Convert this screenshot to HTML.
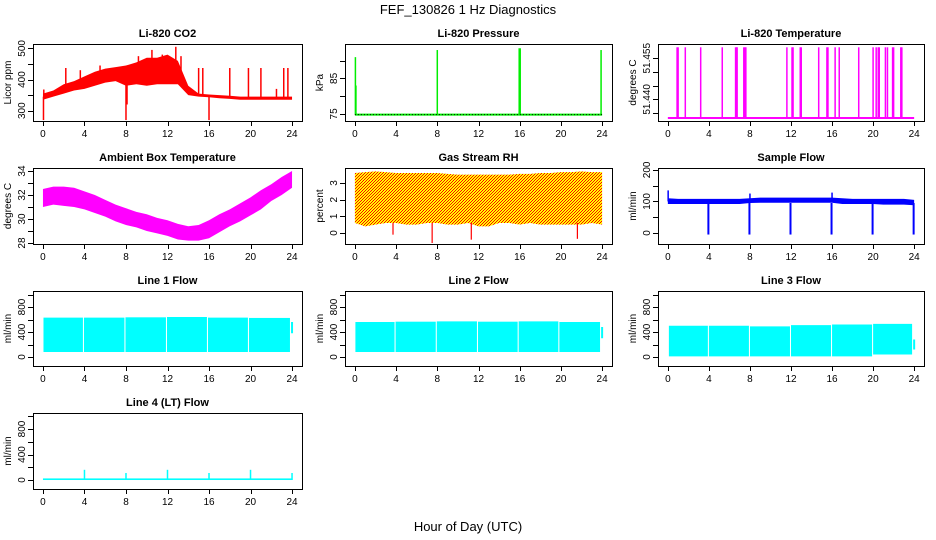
<!DOCTYPE html>
<html><head><meta charset="utf-8"><style>
body{margin:0;background:#fff}
svg{display:block;font-family:"Liberation Sans",Arial,sans-serif}
</style></head><body>
<svg id="c" width="936" height="540" xmlns="http://www.w3.org/2000/svg">
<defs>
<pattern id="rhpat" width="3" height="3" patternUnits="userSpaceOnUse"><rect width="3" height="3" fill="#ffff00"/><rect x="0" y="0" width="1" height="1" fill="#ff0000"/><rect x="2" y="1" width="1" height="1" fill="#ff0000"/><rect x="1" y="2" width="1" height="1" fill="#ff0000"/></pattern>
</defs>
<text x="468" y="14" text-anchor="middle" font-size="13">FEF_130826  1 Hz Diagnostics</text>
<text x="468" y="531" text-anchor="middle" font-size="13">Hour of Day (UTC)</text>
</svg>
<script>
// ---- data ----
const hours = [0,1,2,3,4,5,6,7,8,9,10,11,12,13,14,15,16,17,18,19,20,21,22,23,24];
const co2Hi = [355,365,385,395,410,425,435,440,445,455,470,470,480,460,380,355,352,350,348,345,345,345,345,345,345];
const co2Lo = [335,345,355,365,370,380,390,395,380,385,380,385,385,385,350,345,343,340,338,335,335,335,335,335,335];
const co2SpikeT = [0.05,0.08,2.2,3.6,5.5,8.0,8.1,9.2,10.5,11.5,12.8,13.3,15.0,15.4,16.0,18.0,19.8,21.0,22.5,23.2,23.6];
const co2SpikeV = [270,368,437,430,445,270,320,475,495,480,505,475,437,437,270,437,437,437,370,437,437];
const presBase = 74.8;
const presSpikeT = [0.05,0.1,8.0,16.0,23.9];
const presSpikeV = [91,83,93,93.5,93];
const tempBase = 51.4332;
const tempSpikeT = [0.9,1.0,1.7,3.2,5.3,6.6,6.7,6.75,7.4,7.5,7.6,11.6,12.1,12.2,12.9,13.0,14.7,15.5,15.6,16.3,16.7,18.6,20.0,20.3,20.5,20.6,21.2,21.4,21.9,22.0,22.7,22.8];
const tempSpikeV = 51.459;
const ambHi = [32.5,32.7,32.7,32.6,32.3,32.0,31.6,31.2,30.9,30.6,30.4,30.1,29.9,29.6,29.4,29.5,29.9,30.4,30.8,31.3,31.8,32.4,32.9,33.5,34.0];
const ambLo = [31.0,31.2,31.1,31.0,30.8,30.5,30.2,29.8,29.5,29.3,29.0,28.8,28.6,28.3,28.2,28.2,28.4,28.9,29.4,29.8,30.3,30.8,31.5,32.0,32.6];
const rhHi = [3.6,3.65,3.7,3.65,3.6,3.6,3.6,3.6,3.6,3.55,3.5,3.5,3.5,3.5,3.5,3.5,3.55,3.55,3.6,3.6,3.65,3.65,3.7,3.65,3.65];
const rhLo = [0.6,0.4,0.5,0.6,0.6,0.5,0.5,0.6,0.6,0.5,0.5,0.6,0.4,0.4,0.6,0.6,0.5,0.6,0.5,0.5,0.5,0.5,0.5,0.6,0.5];
const rhSpikeT = [3.7,7.5,11.3,21.6];
const rhSpikeV = [-0.1,-0.6,-0.4,-0.35];
const sfHi = [110,108,108,108,108,108,108,108,110,112,112,112,112,112,112,112,112,110,108,108,108,108,108,108,105];
const sfLo = [92,92,92,92,92,92,92,92,95,96,96,96,96,96,96,96,96,92,92,92,92,90,90,90,88];
const sfDipT = [4,8,12,16,20,24];
const sfDipV = [-5,-5,-5,-5,-5,-5];
const sfSpikeT = [0.03,8.0,16.0];
const sfSpikeV = [135,125,128];
const l1Start = [0.05,3.95,7.95,11.95,15.9,19.85];
const l1End = [3.85,7.85,11.85,15.8,19.75,23.8];
const l1Lo = [80,80,80,80,80,80];
const l1Hi = [630,630,635,640,630,625];
const l2Start = [0.05,3.95,7.95,11.95,15.9,19.85];
const l2End = [3.85,7.85,11.85,15.8,19.75,23.8];
const l2Lo = [80,80,80,80,80,80];
const l2Hi = [560,565,570,565,570,560];
const l3Start = [0.1,4.0,8.0,12.0,16.0,20.0];
const l3End = [3.9,7.9,11.9,15.9,19.9,23.8];
const l3Lo = [10,10,10,10,10,40];
const l3Hi = [500,500,490,510,520,530];
const l4SpikeT = [4,8,12,16,20,24];
const l4SpikeV = [160,110,160,110,160,110];
const xTicks = [0,4,8,12,16,20,24];

const S = document.getElementById('c');
const NS = 'http://www.w3.org/2000/svg';
function mk(tag, attrs, parent) {
  const e = document.createElementNS(NS, tag);
  for (const k in attrs) e.setAttribute(k, attrs[k]);
  (parent || S).appendChild(e);
  return e;
}
const cols = [[33,302],[345,612],[658,924]];
const rows = [[44,121],[168,244],[291,366],[413,489]];

function panel(name, title, ylab, c, r, ymin, ymax, ticks, labels, fmt) {
  const [x0,x1] = cols[c], [y0,y1] = rows[r];
  const g = mk('g', {});
  
  
  const X = t => x0 + (t + 0.96) / 25.92 * (x1 - x0);
  const Y = v => y1 - (v - ymin) / (ymax - ymin) * (y1 - y0);
  const t = mk('text', {x:(x0+x1)/2, y:y0-7, 'text-anchor':'middle', 'font-size':'11', 'font-weight':'bold'}, g);
  t.textContent = title;
  
  
  const yl = mk('text', {transform:`translate(${x0-22},${(y0+y1)/2}) rotate(-90)`, 'text-anchor':'middle', 'font-size':'10'}, g);
  yl.textContent = ylab;
  
  
  const plot = mk('g', {}, g);
  
  
  const ax = mk('g', {stroke:'#000', 'stroke-width':'1', fill:'none'}, g);
  
  
  mk('rect', {x:x0+0.5, y:y0+0.5, width:x1-x0, height:y1-y0}, ax);
  mk('line', {x1:X(0), x2:X(24), y1:y1+0.5, y2:y1+0.5}, ax);
  xTicks.forEach(v => {
    mk('line', {x1:Math.round(X(v))+0.5, x2:Math.round(X(v))+0.5, y1:y1, y2:y1+5}, ax);
    const tl = mk('text', {x:X(v), y:y1+16, 'text-anchor':'middle', 'font-size':'10', fill:'#000', stroke:'none'}, g);
    tl.textContent = v;
    
    
  });
  ticks.forEach(v => {
    const yy = Math.round(Y(v)) + 0.5;
    mk('line', {x1:x0-5, x2:x0, y1:yy, y2:yy}, ax);
    if (labels.includes(v)) {
      const tl = mk('text', {transform:`translate(${x0-8},${Y(v)}) rotate(-90)`, 'text-anchor':'middle', 'font-size':'10', fill:'#000', stroke:'none'}, g);
      tl.textContent = fmt ? fmt(v) : v;
      
      
    }
  });
  return {X, Y, plot};
}
function band(p, xs, hi, lo, fill) {
  let d = 'M' + xs.map((t,i) => p.X(t) + ',' + p.Y(hi[i])).join('L');
  for (let i = xs.length-1; i >= 0; i--) d += 'L' + p.X(xs[i]) + ',' + p.Y(lo[i]);
  const e = mk('path', {d: d + 'Z', fill: fill}, p.plot);
  
  
}
function vline(p, t, a, b, col, w) {
  const e = mk('line', {x1:p.X(t), x2:p.X(t), y1:p.Y(a), y2:p.Y(b), stroke:col, 'stroke-width':w||1.3}, p.plot);
  
  
}
function blocks(p, st, en, lo, hi, col) {
  st.forEach((s,i) => {
    const e = mk('rect', {x:p.X(s), y:p.Y(hi[i]), width:p.X(en[i])-p.X(s), height:p.Y(lo[i])-p.Y(hi[i]), fill:col}, p.plot);
    
    
  });
}

// CO2
let p = panel('co2','Li-820 CO2','Licor ppm',0,0,267,514,[300,350,400,450,500],[300,400,500]);
band(p, hours, co2Hi, co2Lo, '#ff0000');
co2SpikeT.forEach((t,i) => vline(p, t, (co2Hi[Math.round(t)]+co2Lo[Math.round(t)])/2, co2SpikeV[i], '#ff0000', 1.5));
// Pressure
p = panel('pressure','Li-820 Pressure','kPa',1,0,73,94.7,[75,80,85,90],[75,85]);
presSpikeT.forEach((t,i) => vline(p, t, presBase, presSpikeV[i], '#00ee00', i===3?2.5:1.5));
mk('line', {x1:p.X(0), x2:p.X(24), y1:p.Y(presBase), y2:p.Y(presBase), stroke:'#00ee00', 'stroke-width':2}, p.plot);
mk('line', {x1:p.X(0), x2:p.X(24), y1:p.Y(presBase), y2:p.Y(presBase), stroke:'#000', 'stroke-width':1, 'stroke-dasharray':'1,2'}, p.plot);
// Li temp
p = panel('li-temperature','Li-820 Temperature','degrees C',2,0,51.4321,51.4602,[51.435,51.440,51.445,51.450,51.455],[51.440,51.455],v=>v.toFixed(3).replace(/0$/,'').replace(/(\.\d\d)$/,'$10'));
tempSpikeT.forEach(t => vline(p, t, tempBase, tempSpikeV, '#ff00ff', 1.5));
mk('line', {x1:p.X(0), x2:p.X(24), y1:p.Y(tempBase), y2:p.Y(tempBase), stroke:'#ff00ff', 'stroke-width':2}, p.plot);
// Ambient
p = panel('ambient-temperature','Ambient Box Temperature','degrees C',0,1,27.92,34.25,[28,29,30,31,32,33,34],[28,30,32,34]);
band(p, hours, ambHi, ambLo, '#ff00ff');
// RH
p = panel('gas-rh','Gas Stream RH','percent',1,1,-0.66,3.9,[0,1,2,3],[0,1,2,3]);
band(p, hours, rhHi, rhLo, 'url(#rhpat)');
rhSpikeT.forEach((t,i) => vline(p, t, 0.6, rhSpikeV[i], '#ff0000', 1.2));
// Sample flow
p = panel('sample-flow','Sample Flow','ml/min',2,1,-35,206,[0,50,100,150,200],[0,100,200]);
band(p, hours, sfHi, sfLo, '#0000ff');
sfDipT.forEach((t,i) => vline(p, t-0.05, 95, sfDipV[i], '#0000ff', 2));
sfSpikeT.forEach((t,i) => vline(p, t, 100, sfSpikeV[i], '#0000ff', 1.5));
// Line flows
const fT = [0,200,400,600,800,1000], fL = [0,400,800];
p = panel('line1-flow','Line 1 Flow','ml/min',0,2,-144,1056,fT,fL);
blocks(p, l1Start, l1End, l1Lo, l1Hi, '#00ffff');
vline(p, 24, 380, 560, '#00ffff', 2);
p = panel('line2-flow','Line 2 Flow','ml/min',1,2,-144,1056,fT,fL);
blocks(p, l2Start, l2End, l2Lo, l2Hi, '#00ffff');
vline(p, 24, 300, 480, '#00ffff', 2);
p = panel('line3-flow','Line 3 Flow','ml/min',2,2,-144,1056,fT,fL);
blocks(p, l3Start, l3End, l3Lo, l3Hi, '#00ffff');
vline(p, 24, 120, 280, '#00ffff', 2);
p = panel('line4-flow','Line 4 (LT) Flow','ml/min',0,3,-141,1051,fT,fL);
blocks(p, [0], [24], [0], [25], '#00ffff');
l4SpikeT.forEach((t,i) => vline(p, t, 0, l4SpikeV[i], '#00ffff', 1.5));
</script>
</body></html>
